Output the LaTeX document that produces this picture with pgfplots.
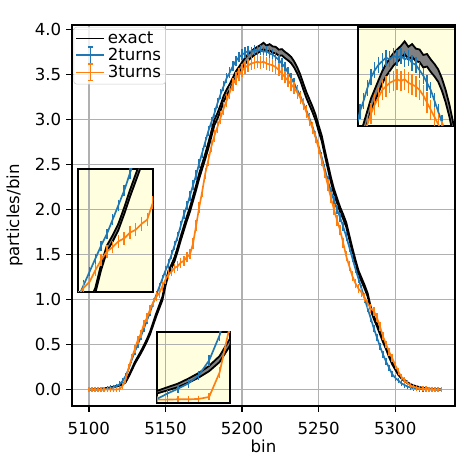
\documentclass[border=0pt]{standalone}
\usepackage{fontspec}
\setmainfont{DejaVu Sans}
\usepackage{pgfplots}
\usepackage{pgfplotstable}
\pgfplotsset{compat=1.18}
\usepgfplotslibrary{fillbetween}
\definecolor{ctwo}{HTML}{1F77B4}
\definecolor{cthree}{HTML}{FF7F0E}
\definecolor{gridc}{HTML}{B0B0B0}
\definecolor{lgray}{HTML}{CCCCCC}
\definecolor{lyel}{HTML}{FFFFE0}
\newcommand{\fs}{\fontsize{12}{14}\selectfont}
\pgfplotstableread{
x lo hi b eb o eo
5100 0 0 0 0 0 0
5102 4 16 0 0 0 0
5104 12 28 2 2 0 0
5106 29 51 3 3 0 0
5108 55 85 5 4 0 0
5110 91 129 10 5 0 0
5112 137 183 90 15 0 0
5114 184 236 160 20 5 5
5116 250 310 240 25 5 5
5118 326 394 360 30 10 7
5120 421 499 580 39 40 15
5122 556 644 950 49 400 46
5124 798 902 1500 62 1100 76
5126 1430 1570 2300 77 2400 113
5128 2116 2284 3300 92 3500 136
5130 2852 3048 4200 104 4500 154
5132 3443 3657 5000 113 5500 171
5134 4034 4266 5900 123 6200 181
5136 4675 4925 6800 132 7300 197
5138 5367 5633 7700 140 8000 206
5140 6157 6443 8600 148 8900 217
5142 7146 7454 9600 157 9700 227
5144 8136 8464 10500 164 10300 233
5146 9027 9373 11400 171 10700 238
5148 9919 10281 12300 177 11500 247
5150 11505 11895 13200 184 12200 254
5152 12795 13205 14000 189 12800 260
5154 13489 13911 15000 196 13100 263
5156 14283 14717 16000 202 13500 267
5158 15375 15825 17000 209 13700 269
5160 16567 17033 18200 216 14100 273
5162 17659 18141 19400 223 14300 275
5164 18752 19248 20400 229 14700 279
5166 19745 20255 21500 235 15000 282
5168 20938 21462 22700 241 16200 293
5170 22131 22669 23800 247 18200 310
5172 23423 23977 25100 253 20200 327
5174 24517 25083 26300 259 22000 341
5176 25610 26190 27500 265 24000 356
5178 26804 27396 28700 271 25500 367
5180 28097 28703 29700 276 27000 378
5182 29390 30010 30700 280 28200 386
5184 30086 30714 31800 285 29200 393
5186 30982 31618 32800 290 30200 400
5188 31977 32623 33700 294 31200 406
5190 32672 33328 34600 298 32100 412
5192 33269 33931 35200 300 33000 418
5194 33966 34634 35900 303 33900 423
5196 34663 35337 36500 306 34500 427
5198 35161 35839 36900 307 35000 430
5200 35658 36342 37200 309 35400 433
5202 36156 36844 37400 309 35800 435
5204 36554 37246 37600 310 36000 436
5206 36853 37547 37500 310 36200 438
5208 37151 37849 37700 311 36300 438
5210 37350 38050 37600 310 36400 439
5212 37550 38250 37700 311 36300 438
5214 37799 38501 37500 310 36400 439
5216 37500 38200 37600 310 36200 438
5218 37649 38351 37300 309 36100 437
5220 37400 38100 37200 308 36000 436
5222 37351 38049 36900 307 35800 435
5224 37052 37748 36600 306 35500 433
5226 37102 37798 36200 304 35100 431
5228 36803 37497 35800 303 34700 428
5230 36554 37246 35200 300 34300 426
5232 36256 36944 34600 298 33900 423
5234 35758 36442 34000 295 33500 421
5236 35111 35789 33300 292 33000 418
5238 34315 34985 32600 289 32400 414
5240 33320 33980 31800 285 31700 409
5242 32375 33025 31000 282 30800 404
5244 31579 32221 30100 278 29900 398
5246 30783 31417 29200 273 29000 392
5248 29887 30513 28100 268 28000 385
5250 28694 29306 27000 263 26800 377
5252 27599 28201 25800 257 25500 367
5254 26008 26592 24500 250 24100 357
5256 24517 25083 23200 244 22700 347
5258 23025 23575 22000 237 21300 336
5260 21733 22267 21000 232 20000 325
5262 20739 21261 20000 226 18800 315
5264 19745 20255 19100 221 17700 306
5266 18951 19449 18100 215 16300 294
5268 18057 18543 17000 209 14800 280
5270 16666 17134 15800 201 13700 269
5272 15276 15724 14600 193 12600 258
5274 13986 14414 13400 185 11800 250
5276 12795 13205 12300 177 11200 243
5278 12001 12399 11200 169 10800 239
5280 11208 11592 10100 161 10200 232
5282 10316 10684 9000 152 9600 225
5284 8829 9171 7900 142 9000 218
5286 7839 8161 6800 132 8700 215
5288 7047 7353 5800 122 8000 206
5290 6157 6443 4800 111 7000 192
5292 5268 5532 3900 100 5900 177
5294 4478 4722 3100 89 5000 163
5296 3591 3809 2400 78 4200 149
5298 2803 2997 1700 66 3500 136
5300 2214 2386 1300 58 2700 120
5302 1626 1774 1000 51 2000 103
5304 1235 1365 700 42 1400 86
5306 943 1057 500 36 1000 73
5308 701 799 330 29 700 61
5310 508 592 220 24 450 49
5312 383 457 140 19 300 40
5314 288 352 90 15 200 33
5316 203 257 60 12 130 26
5318 147 193 30 9 90 22
5320 100 140 20 7 60 18
5322 64 96 10 5 40 15
5324 37 63 5 4 25 12
5326 20 40 0 0 12 8
5328 8 22 0 0 5 5
5330 1 9 0 0 0 0
}\data
\pgfplotsset{
  exactline/.style={black, line width=1.3bp, mark=none},
  ebstyle/.style={color=#1, line width=1.2bp, mark=none,
    /pgfplots/error bars/y dir=both,
    /pgfplots/error bars/y explicit,
    /pgfplots/error bars/error bar style={line width=1bp, color=#1},
    /pgfplots/error bars/error mark options={color=#1, mark size=1.8bp, line width=1bp},
    legend image code/.code={
      \draw[color=#1, line width=1.2bp] (0bp,0bp) -- (20bp,0bp);
      \draw[color=#1, line width=1bp] (10bp,-6bp) -- (10bp,6bp);
      \draw[color=#1, line width=1bp] (8.2bp,-6bp) -- (11.8bp,-6bp) (8.2bp,6bp) -- (11.8bp,6bp);
    }},
  inset/.style={scale only axis, anchor=north west, xtick=\empty, ytick=\empty,
    axis background/.style={fill=lyel},
    axis line style={black, line width=1.3bp}, clip=true},
}
\begin{document}
\begin{tikzpicture}
\begin{axis}[
  at={(51.84bp,37.44bp)}, anchor=south west,
  width=275.76bp, height=274.32bp, scale only axis,
  xmin=5089, xmax=5339, ymin=-1830, ymax=40480,
  xtick={5100,5150,5200,5250,5300},
  ytick={0,5000,10000,15000,20000,25000,30000,35000,40000},
  yticklabels={0.0,0.5,1.0,1.5,2.0,2.5,3.0,3.5,4.0},
  scaled ticks=false,
  /pgf/number format/assume math mode=true,
  /pgf/number format/1000 sep={},
  tick label style={font=\fs},
  xticklabel style={yshift=-4bp},
  label style={font=\fs},
  xlabel style={yshift=3bp},
  ylabel style={yshift=2bp},
  grid=major, grid style={color=gridc, line width=1bp},
  tick align=outside, tick pos=left, major tick length=4.2bp,
  tick style={black, line width=1bp},
  axis line style={line width=1bp},
  xlabel={bin}, ylabel={particles/bin},
  legend cell align=left,
  legend style={at={(0.004,0.995)}, anchor=north west, draw=lgray, fill=white,
    fill opacity=0.8, text opacity=1, rounded corners=2bp, font=\fs,
    inner sep=1.2bp, row sep=-2bp},
]
\addplot[name path=hi, exactline, legend image code/.code={\draw[black, line width=1.3bp] (0bp,0bp) -- (20bp,0bp);}] table[x=x, y=hi] {\data};
\addplot[name path=lo, exactline, forget plot] table[x=x, y=lo] {\data};
\addplot[fill=gray, draw=none, forget plot] fill between[of=hi and lo];
\addplot[ebstyle=ctwo] table[x=x, y=b, y error=eb] {\data};
\addplot[ebstyle=cthree] table[x=x, y=o, y error=eo] {\data};
\legend{exact,2turns,3turns}
\node[anchor=base west, font=\fs, inner sep=0pt] at ([yshift=3bp]rel axis cs:0,1) {1e4};
\end{axis}
% inset 1
\begin{axis}[inset, at={(257.76bp,310.32bp)}, width=69.84bp, height=71.28bp,
  xmin=5189, xmax=5241, ymin=33800, ymax=39300]
\addplot[name path=hi, exactline] table[x=x, y=hi] {\data};
\addplot[name path=lo, exactline] table[x=x, y=lo] {\data};
\addplot[fill=gray, draw=none] fill between[of=hi and lo];
\addplot[ebstyle=ctwo] table[x=x, y=b, y error=eb] {\data};
\addplot[ebstyle=cthree] table[x=x, y=o, y error=eo] {\data};
\end{axis}
% inset 2
\begin{axis}[inset, at={(56.16bp,208.08bp)}, width=54bp, height=88.56bp,
  xmin=5142, xmax=5168, ymin=10000, ymax=18500]
\addplot[name path=hi, exactline] table[x=x, y=hi] {\data};
\addplot[name path=lo, exactline] table[x=x, y=lo] {\data};
\addplot[fill=gray, draw=none] fill between[of=hi and lo];
\addplot[ebstyle=ctwo] table[x=x, y=b, y error=eb] {\data};
\addplot[ebstyle=cthree] table[x=x, y=o, y error=eo] {\data};
\end{axis}
% inset 3
\begin{axis}[inset, at={(113.04bp,90.72bp)}, width=52.56bp, height=51.12bp,
  xmin=5110, xmax=5124, ymin=-50, ymax=1000]
\addplot[name path=hi, exactline] table[x=x, y=hi] {\data};
\addplot[name path=lo, exactline] table[x=x, y=lo] {\data};
\addplot[fill=gray, draw=none] fill between[of=hi and lo];
\addplot[ebstyle=ctwo] table[x=x, y=b, y error=eb] {\data};
\addplot[ebstyle=cthree] table[x=x, y=o, y error=eo] {\data};
\end{axis}
\pgfresetboundingbox
\useasboundingbox (0,0) rectangle (328.32bp,329.76bp);
\end{tikzpicture}
\end{document}
